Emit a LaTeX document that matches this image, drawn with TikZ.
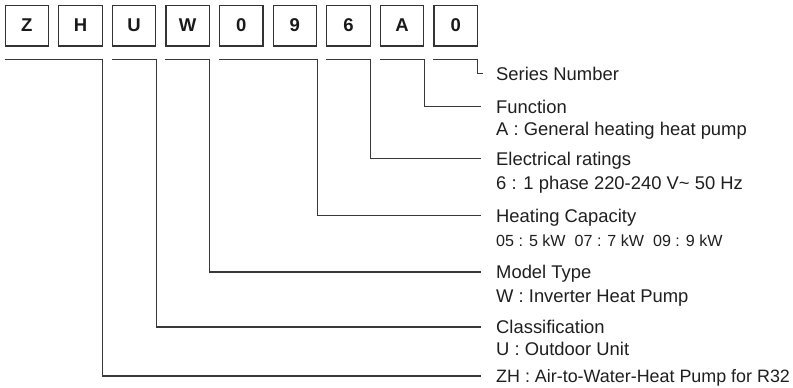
\documentclass[tikz,border=0pt]{standalone}
\usepackage{fontspec}
\setmainfont{Liberation Sans}
\begin{document}
\begin{tikzpicture}[x=1pt,y=-1pt,
  codebox/.style={draw=black!80, line width=1.2pt, minimum width=43.3pt, minimum height=40.8pt,
    inner sep=0pt, anchor=north west, text=black!90, font=\fontsize{18.5}{20}\selectfont\bfseries},
  lbl/.style={anchor=base west, inner sep=0pt, text=black!88, font=\fontsize{18.4}{20}\selectfont},
  lblsmall/.style={anchor=base west, inner sep=0pt, text=black!88, font=\fontsize{16.1}{18}\selectfont},
  leader/.style={draw=black!78, line width=1.1pt}]
\useasboundingbox (0,0) rectangle (793,388);
% code boxes
\foreach \i/\c in {1/Z,2/H,3/U,4/W,5/0,6/9,7/6,8/A,9/0}
  \node[codebox] (b\i) at ({4.6+53.6*(\i-1)},4.6) {\c};
% labels
\node[lbl] (sn) at (496,80) {Series Number};
\node[lbl] (fn) at (496,113) {Function};
\node[lbl] (fn2) at (496,135.5) {A : General heating heat pump};
\node[lbl] (el) at (496,165) {Electrical ratings};
\node[lbl] (el2) at (496,189) {6 : 1 phase 220-240 V\textasciitilde{} 50 Hz};
\node[lbl] (hc) at (496,222) {Heating Capacity};
\node[lblsmall] (hc2) at (496,246) {05 : 5 kW\ \ 07 : 7 kW\ \ 09 : 9 kW};
\node[lbl] (mt) at (496,278.5) {Model Type};
\node[lbl] (mt2) at (496,302) {W : Inverter Heat Pump};
\node[lbl] (cl) at (496,333.5) {Classification};
\node[lbl] (cl2) at (496,355.5) {U : Outdoor Unit};
\node[lbl,font=\fontsize{17.9}{20}\selectfont] (zh) at (496,382.5) {ZH : Air-to-Water-Heat Pump for R32};
% leader end points
\coordinate (Lsn) at ([shift={(-13pt,6.8pt)}]sn.base west);
\coordinate (Lfn) at ([shift={(-15pt,6.8pt)}]fn.base west);
\coordinate (Lel) at ([shift={(-15pt,6.8pt)}]el.base west);
\coordinate (Lhc) at ([shift={(-15pt,6.8pt)}]hc.base west);
\coordinate (Lmt) at ([shift={(-15pt,6.5pt)}]mt.base west);
\coordinate (Lcl) at ([shift={(-15pt,6.5pt)}]cl.base west);
\coordinate (Lzh) at ([shift={(-15pt,6.5pt)}]zh.base west);
% underline points
\foreach \i in {1,...,9}{
  \coordinate (w\i) at ([yshift=-13pt]b\i.south west);
  \coordinate (e\i) at ([yshift=-13pt]b\i.south east);
}
% connectors
\draw[leader] (w1) -- (e2) -- (Lzh -| e2) -- (Lzh);
\draw[leader] (w3) -- (e3) -- (Lcl -| e3) -- (Lcl);
\draw[leader] (w4) -- (e4) -- (Lmt -| e4) -- (Lmt);
\draw[leader] (w5) -- (e6) -- (Lhc -| e6) -- (Lhc);
\draw[leader] (w7) -- (e7) -- (Lel -| e7) -- (Lel);
\draw[leader] (w8) -- (e8) -- (Lfn -| e8) -- (Lfn);
\draw[leader] (w9) -- (e9) -- (Lsn -| e9) -- (Lsn);
\end{tikzpicture}
\end{document}
